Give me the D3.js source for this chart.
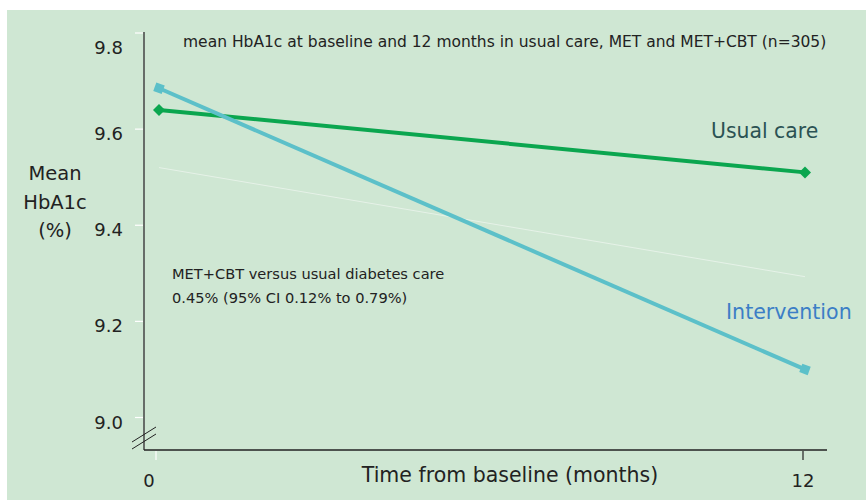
<!DOCTYPE html>
<html>
<head>
    <meta charset="utf-8">
    <title>Mean HbA1c</title>
    <script src="https://cdnjs.cloudflare.com/ajax/libs/d3/7.8.5/d3.min.js"></script>
    <style>
        body { margin: 0; background: #fff; }
        text { font-family: "DejaVu Sans", sans-serif; fill: #222; }
    </style>
</head>
<body>
<script type="text/javascript">
    // data
    var months = [0, 12];
    var usualCare = [9.64, 9.51];
    var intervention = [9.685, 9.10];
    var met = [9.52, 9.293];
    var yTicks = [9.0, 9.2, 9.4, 9.6, 9.8];
    var xTicks = [0, 12];

    var width = 866, height = 500;

    var svg = d3.select("body").append("svg")
        .attr("width", width)
        .attr("height", height);

    svg.append("rect")
        .attr("x", 7).attr("y", 10)
        .attr("width", width - 7).attr("height", height - 10)
        .attr("fill", "#cfe7d3");

    var x = d3.scaleLinear().domain([0, 12]).range([159, 805]);
    var y = d3.scaleLinear().domain([9.0, 9.8]).range([417.5, 33]);

    var axisX = 144, axisY = 450;

    // y axis line + white ticks
    svg.append("line")
        .attr("x1", axisX).attr("x2", axisX)
        .attr("y1", 32).attr("y2", axisY)
        .attr("stroke", "#444").attr("stroke-width", 1.5);

    svg.selectAll(".ytick").data(yTicks).enter().append("line")
        .attr("x1", axisX - 9).attr("x2", axisX - 1)
        .attr("y1", function(d){ return y(d); })
        .attr("y2", function(d){ return y(d); })
        .attr("stroke", "#fff").attr("stroke-width", 1.2);

    svg.selectAll(".ylab").data(yTicks).enter().append("text")
        .attr("x", 123)
        .attr("y", function(d){ return y(d) + (d === 9.8 ? 21 : 11); })
        .attr("text-anchor", "end")
        .attr("font-size", 18)
        .text(function(d){ return d.toFixed(1); });

    // x axis
    svg.append("line")
        .attr("x1", axisX).attr("x2", 827)
        .attr("y1", axisY).attr("y2", axisY)
        .attr("stroke", "#222").attr("stroke-width", 1.5);

    svg.selectAll(".xtick").data(xTicks).enter().append("line")
        .attr("x1", function(d){ return d === 0 ? 156 : x(d) - 2; })
        .attr("x2", function(d){ return d === 0 ? 156 : x(d) - 2; })
        .attr("y1", axisY + 1).attr("y2", axisY + 10)
        .attr("stroke", function(d){ return d === 0 ? "#fff" : "#222"; })
        .attr("stroke-width", 1.2);

    svg.selectAll(".xlab").data(xTicks).enter().append("text")
        .attr("x", function(d){ return d === 0 ? 149 : x(d) - 2; })
        .attr("y", 487)
        .attr("text-anchor", "middle")
        .attr("font-size", 18)
        .text(function(d){ return d; });

    // axis break
    [0, 7].forEach(function(o){
        svg.append("line")
            .attr("x1", 132).attr("y1", 442 + o)
            .attr("x2", 156).attr("y2", 427 + o)
            .attr("stroke", "#222").attr("stroke-width", 1);
    });

    var line = d3.line()
        .x(function(d, i){ return x(months[i]); })
        .y(function(d){ return y(d); });

    // faint MET line
    svg.append("path")
        .attr("d", line(met))
        .attr("fill", "none")
        .attr("stroke", "#e6f2e8").attr("stroke-width", 1);

    // usual care: diamonds
    svg.append("path")
        .attr("d", line(usualCare))
        .attr("fill", "none")
        .attr("stroke", "#0ba64f").attr("stroke-width", 4);
    svg.selectAll(null).data(usualCare).enter().append("path")
        .attr("d", d3.symbol(d3.symbolSquare, 72))
        .attr("transform", function(d, i){ return "translate(" + x(months[i]) + "," + y(d) + ") rotate(45)"; })
        .attr("fill", "#0ba64f");

    // intervention: squares
    svg.append("path")
        .attr("d", line(intervention))
        .attr("fill", "none")
        .attr("stroke", "#5cc0c9").attr("stroke-width", 4);
    svg.selectAll(null).data(intervention).enter().append("path")
        .attr("d", d3.symbol(d3.symbolSquare, 80))
        .attr("transform", function(d, i){ return "translate(" + x(months[i]) + "," + y(d) + ") rotate(20)"; })
        .attr("fill", "#5cc0c9");

    // texts
    svg.append("text")
        .attr("x", 183).attr("y", 47)
        .attr("font-size", 15.5)
        .text("mean HbA1c at baseline and 12 months in usual care, MET and MET+CBT (n=305)");

    svg.append("text")
        .attr("x", 55).attr("y", 180)
        .attr("text-anchor", "middle")
        .attr("font-size", 19.5)
        .selectAll("tspan").data(["Mean", "HbA1c", "(%)"]).enter().append("tspan")
        .attr("x", 55)
        .attr("dy", function(d, i){ return i ? 28.5 : 0; })
        .text(function(d){ return d; });

    svg.append("text")
        .attr("x", 711).attr("y", 138)
        .attr("font-size", 20.4)
        .style("fill", "#2b5253")
        .text("Usual care");

    svg.append("text")
        .attr("x", 726).attr("y", 319)
        .attr("font-size", 20.6)
        .style("fill", "#3c7ec6")
        .text("Intervention");

    svg.append("text")
        .attr("x", 172).attr("y", 279)
        .attr("font-size", 14.6)
        .text("MET+CBT versus usual diabetes care");
    svg.append("text")
        .attr("x", 172).attr("y", 303)
        .attr("font-size", 14.6)
        .text("0.45% (95% CI 0.12% to 0.79%)");

    svg.append("text")
        .attr("x", 510).attr("y", 482)
        .attr("text-anchor", "middle")
        .attr("font-size", 20.5)
        .text("Time from baseline (months)");
</script>
</body>
</html>
